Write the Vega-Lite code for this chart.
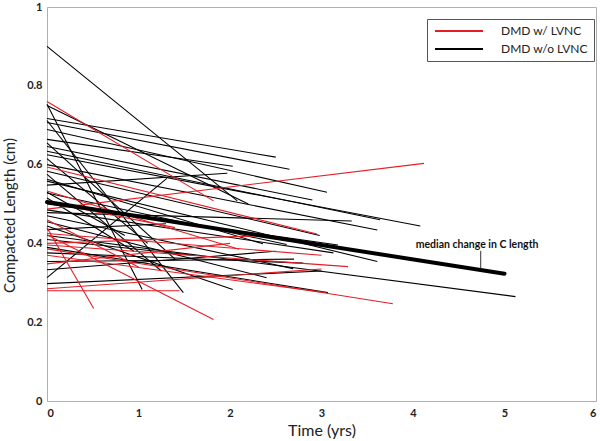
{
  "$schema": "https://vega.github.io/schema/vega-lite/v6.json",
  "width": 549,
  "height": 394,
  "autosize": {"type": "none"},
  "padding": {"left": 47, "top": 7, "right": 4, "bottom": 40},
  "background": "white",
  "config": {
    "view": {"stroke": "#b0b0b0", "strokeWidth": 1},
    "font": "Lato",
    "axis": {"grid": false, "ticks": false, "domainColor": "#b0b0b0", "labelFont": "Lato", "labelFontWeight": "bold", "labelFontSize": 11, "labelColor": "#222", "titleFont": "Lato", "titleFontWeight": "normal", "titleFontSize": 15, "titleColor": "#222"}
  },
  "layer": [
    {
      "data": {"values": [
        {"g": "DMD w/o LVNC", "t0": 0, "y0": 0.900, "t": 2.08, "y1": 0.508},
        {"g": "DMD w/o LVNC", "t0": 0, "y0": 0.753, "t": 1.04, "y1": 0.283},
        {"g": "DMD w/o LVNC", "t0": 0, "y0": 0.750, "t": 2.20, "y1": 0.500},
        {"g": "DMD w/o LVNC", "t0": 0, "y0": 0.717, "t": 2.50, "y1": 0.619},
        {"g": "DMD w/o LVNC", "t0": 0, "y0": 0.707, "t": 2.65, "y1": 0.588},
        {"g": "DMD w/o LVNC", "t0": 0, "y0": 0.712, "t": 1.49, "y1": 0.275},
        {"g": "DMD w/o LVNC", "t0": 0, "y0": 0.689, "t": 3.06, "y1": 0.530},
        {"g": "DMD w/o LVNC", "t0": 0, "y0": 0.664, "t": 2.03, "y1": 0.596},
        {"g": "DMD w/o LVNC", "t0": 0, "y0": 0.655, "t": 1.40, "y1": 0.360},
        {"g": "DMD w/o LVNC", "t0": 0, "y0": 0.646, "t": 2.90, "y1": 0.510},
        {"g": "DMD w/o LVNC", "t0": 0, "y0": 0.634, "t": 3.64, "y1": 0.460},
        {"g": "DMD w/o LVNC", "t0": 0, "y0": 0.625, "t": 4.08, "y1": 0.444},
        {"g": "DMD w/o LVNC", "t0": 0, "y0": 0.615, "t": 1.10, "y1": 0.400},
        {"g": "DMD w/o LVNC", "t0": 0, "y0": 0.600, "t": 3.61, "y1": 0.434},
        {"g": "DMD w/o LVNC", "t0": 0, "y0": 0.583, "t": 2.98, "y1": 0.420},
        {"g": "DMD w/o LVNC", "t0": 0, "y0": 0.575, "t": 1.25, "y1": 0.330},
        {"g": "DMD w/o LVNC", "t0": 0, "y0": 0.563, "t": 2.36, "y1": 0.399},
        {"g": "DMD w/o LVNC", "t0": 0, "y0": 0.558, "t": 3.61, "y1": 0.354},
        {"g": "DMD w/o LVNC", "t0": 0, "y0": 0.548, "t": 1.97, "y1": 0.578},
        {"g": "DMD w/o LVNC", "t0": 0, "y0": 0.528, "t": 2.62, "y1": 0.397},
        {"g": "DMD w/o LVNC", "t0": 0, "y0": 0.530, "t": 0.85, "y1": 0.420},
        {"g": "DMD w/o LVNC", "t0": 0, "y0": 0.515, "t": 0.95, "y1": 0.380},
        {"g": "DMD w/o LVNC", "t0": 0, "y0": 0.500, "t": 3.18, "y1": 0.396},
        {"g": "DMD w/o LVNC", "t0": 0, "y0": 0.485, "t": 3.13, "y1": 0.376},
        {"g": "DMD w/o LVNC", "t0": 0, "y0": 0.478, "t": 3.33, "y1": 0.457},
        {"g": "DMD w/o LVNC", "t0": 0, "y0": 0.470, "t": 2.69, "y1": 0.336},
        {"g": "DMD w/o LVNC", "t0": 0, "y0": 0.455, "t": 2.40, "y1": 0.313},
        {"g": "DMD w/o LVNC", "t0": 0, "y0": 0.444, "t": 2.03, "y1": 0.283},
        {"g": "DMD w/o LVNC", "t0": 0, "y0": 0.435, "t": 1.30, "y1": 0.450},
        {"g": "DMD w/o LVNC", "t0": 0, "y0": 0.420, "t": 5.12, "y1": 0.265},
        {"g": "DMD w/o LVNC", "t0": 0, "y0": 0.410, "t": 1.60, "y1": 0.370},
        {"g": "DMD w/o LVNC", "t0": 0, "y0": 0.390, "t": 3.07, "y1": 0.275},
        {"g": "DMD w/o LVNC", "t0": 0, "y0": 0.376, "t": 2.80, "y1": 0.350},
        {"g": "DMD w/o LVNC", "t0": 0, "y0": 0.354, "t": 2.70, "y1": 0.360},
        {"g": "DMD w/o LVNC", "t0": 0, "y0": 0.333, "t": 2.50, "y1": 0.380},
        {"g": "DMD w/o LVNC", "t0": 0, "y0": 0.313, "t": 1.31, "y1": 0.565},
        {"g": "DMD w/o LVNC", "t0": 0, "y0": 0.298, "t": 3.00, "y1": 0.330},
        {"g": "DMD w/ LVNC", "t0": 0, "y0": 0.760, "t": 1.82, "y1": 0.508},
        {"g": "DMD w/ LVNC", "t0": 0, "y0": 0.594, "t": 2.95, "y1": 0.424},
        {"g": "DMD w/ LVNC", "t0": 0, "y0": 0.533, "t": 2.10, "y1": 0.385},
        {"g": "DMD w/ LVNC", "t0": 0, "y0": 0.487, "t": 4.12, "y1": 0.603},
        {"g": "DMD w/ LVNC", "t0": 0, "y0": 0.505, "t": 1.40, "y1": 0.440},
        {"g": "DMD w/ LVNC", "t0": 0, "y0": 0.460, "t": 1.00, "y1": 0.340},
        {"g": "DMD w/ LVNC", "t0": 0, "y0": 0.440, "t": 0.51, "y1": 0.235},
        {"g": "DMD w/ LVNC", "t0": 0, "y0": 0.425, "t": 3.00, "y1": 0.370},
        {"g": "DMD w/ LVNC", "t0": 0, "y0": 0.422, "t": 1.82, "y1": 0.207},
        {"g": "DMD w/ LVNC", "t0": 0, "y0": 0.400, "t": 2.40, "y1": 0.420},
        {"g": "DMD w/ LVNC", "t0": 0, "y0": 0.396, "t": 3.29, "y1": 0.341},
        {"g": "DMD w/ LVNC", "t0": 0, "y0": 0.386, "t": 3.78, "y1": 0.247},
        {"g": "DMD w/ LVNC", "t0": 0, "y0": 0.370, "t": 3.05, "y1": 0.275},
        {"g": "DMD w/ LVNC", "t0": 0, "y0": 0.348, "t": 2.00, "y1": 0.400},
        {"g": "DMD w/ LVNC", "t0": 0, "y0": 0.285, "t": 3.00, "y1": 0.335},
        {"g": "DMD w/ LVNC", "t0": 0, "y0": 0.280, "t": 1.45, "y1": 0.280}
      ]},
      "mark": {"type": "rule", "strokeWidth": 1.1},
      "encoding": {
        "x": {"field": "t0", "type": "quantitative", "scale": {"domain": [0, 6], "nice": false}, "axis": {"title": "Time (yrs)", "titleFontSize": 16, "values": [0, 1, 2, 3, 4, 5, 6], "format": "d", "labelPadding": 6, "titlePadding": 4}},
        "x2": {"field": "t"},
        "y": {"field": "y0", "type": "quantitative", "scale": {"domain": [0, 1], "nice": false}, "axis": {"title": "Compacted Length (cm)", "titleY": 208, "values": [0, 0.1, 0.2, 0.3, 0.4, 0.5, 0.6, 0.7, 0.8, 0.9, 1], "format": "~g", "labelPadding": 5, "titlePadding": 9}},
        "y2": {"field": "y1"},
        "color": {"field": "g", "type": "nominal", "scale": {"domain": ["DMD w/ LVNC", "DMD w/o LVNC"], "range": ["#e41e26", "#000000"]},
          "legend": {"title": null, "orient": "none", "legendX": 380, "legendY": 12, "symbolType": "M-1,0H11", "symbolSize": 64, "symbolStrokeWidth": 2, "labelOffset": 56, "labelFontSize": 12, "labelFont": "Lato", "labelColor": "#222", "strokeColor": "#555", "padding": 6, "rowPadding": 6, "fillColor": "white"}}
      }
    },
    {
      "data": {"values": [{"t0": 0, "y0": 0.505, "t": 5.0, "y1": 0.323}]},
      "mark": {"type": "rule", "strokeWidth": 4, "color": "#000000", "strokeCap": "round"},
      "encoding": {
        "x": {"field": "t0", "type": "quantitative"},
        "x2": {"field": "t"},
        "y": {"field": "y0", "type": "quantitative"},
        "y2": {"field": "y1"}
      }
    },
    {
      "data": {"values": [{"x": 4.74, "ya": 0.381, "yb": 0.336}]},
      "mark": {"type": "rule", "strokeWidth": 1, "color": "#333"},
      "encoding": {
        "x": {"field": "x", "type": "quantitative"},
        "y": {"field": "ya", "type": "quantitative"},
        "y2": {"field": "yb"}
      }
    },
    {
      "data": {"values": [{"x": 4.70, "y": 0.397, "label": "median change in C length"}]},
      "mark": {"type": "text", "fontSize": 10.5, "fontWeight": "bold", "font": "Lato", "baseline": "middle", "align": "center", "color": "#111"},
      "encoding": {
        "x": {"field": "x", "type": "quantitative"},
        "y": {"field": "y", "type": "quantitative"},
        "text": {"field": "label"}
      }
    }
  ]
}
